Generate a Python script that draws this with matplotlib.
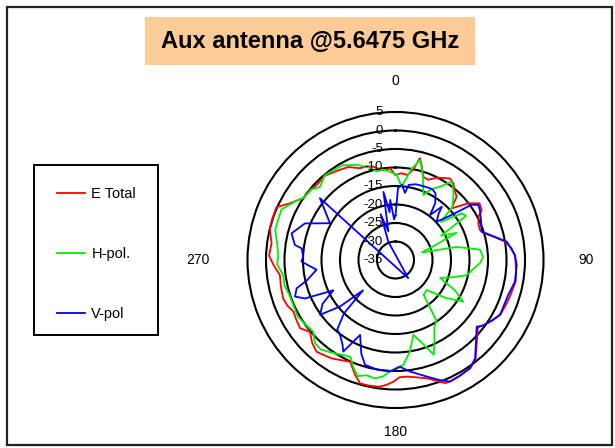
import matplotlib.pyplot as plt
import matplotlib.patches as patches
from matplotlib.transforms import offset_copy
import numpy as np

plt.rcParams['font.family'] = ['Liberation Sans', 'DejaVu Sans']

title = "Aux antenna @5.6475 GHz"
r_min, r_max = -35, 5
ring_values = [-35, -30, -25, -20, -15, -10, -5, 0, 5]
angle_labels = {0: "0", 90: "90", 180: "180", 270: "270"}

# E Total
red_deg = [0, 4, 8, 11, 13.5, 16, 18.5, 22, 27, 33.7, 37, 41, 44, 47.4, 52, 56, 60, 62, 66,
           70.4, 73, 77, 80.5, 84, 88, 92, 96, 100, 107, 112, 117, 121.5, 125, 129.4, 141,
           145.5, 151, 156, 158, 162, 165, 170, 174, 178, 181, 184, 187, 192, 196, 199.4,
           204, 209, 213, 217.2, 220.7, 225, 230, 234.4, 239, 243.2, 247, 251, 257, 262.6,
           267.7, 272, 277.7, 284, 288, 294, 298, 304, 310, 314, 320, 327, 333, 338.8, 343,
           346.6, 350, 353, 356.6]
red_val = [-12, -11.5, -11.8, -10.2, -6.7, -9, -11.3, -11.6, -10, -8.5, -9, -10.5, -11.2, -14.4,
           -10.1, -7.6, -8.1, -9.5, -10.5, -10.8, -10.1, -7.5, -5, -3.5, -2.7, -2.5, -2.2, -2.0,
           -2.5, -2.8, -3, -4, -5, -6.2, -0.6, 0.6, 0.8, 1.0, 0.9, -0.8, -1.9, -2.8, -3.3, -3.3,
           -2.1, -1.2, -0.5, -0.3, -0.3, -2.1, -4.9, -4.1, -3.3, -2.8, -2.3, -3.2, -4.8, -3.3,
           -3.7, -4.1, -3.3, -2.9, -3.2, -3.5, -2, -0.8, -1.2, 0, 0.1, 0.2, -2.5, -5, -5.3,
           -5.6, -5.3, -6.2, -6.8, -8.4, -8.5, -9.1, -10, -10.6, -10.2]

# H-pol.
green_deg = [0.8, 4.8, 10, 13.8, 18, 23.2, 27, 31.3, 35.7, 41, 47, 50, 55, 58, 62, 66, 70, 74,
             78, 83, 88, 92, 97, 102, 107, 112, 117, 121.6, 127, 134, 141, 146, 150, 154, 158,
             163, 166.6, 171, 175.8, 179, 183, 186, 190, 194, 198, 201, 205, 210, 215, 220, 224,
             229, 235, 240, 246, 252, 257, 262, 268, 272, 278, 284, 288, 294, 300, 304, 310,
             314, 320, 326, 331, 338, 344, 348, 352, 356]
green_val = [-12, -15.1, -10, -7.2, -11, -15.9, -13.5, -11.8, -8.9, -11, -14, -19, -13, -12.5,
             -21, -17, -24, -27.6, -18, -12, -11.3, -12.1, -14, -15.3, -19, -22, -17, -13.5,
             -18, -23.3, -22.9, -15.2, -14, -11, -7.4, -12, -14.2, -10, -6.5, -6, -4.8, -3.4,
             -2.5, -2.9, -2, -3.6, -6.1, -5.5, -4.5, -3.5, -3.7, -5.5, -5, -4.5, -4.8, -4.8,
             -4.2, -4.4, -3, -3.3, -2.7, -1.5, -1.5, -1.3, -3.5, -5.0, -5.3, -6.6, -5.2, -5.5,
             -5.7, -7.3, -9, -10.5, -10.3, -11]

# V-pol.
blue_deg = [0, 2, 5, 8, 10, 15, 20, 25, 28, 31, 35, 37.5, 41, 43, 47, 50.6, 54, 56.4, 59.4, 65,
            71.8, 76, 80.7, 87.6, 92.4, 100.3, 107.2, 117.8, 123.1, 127, 129.4, 141, 145.5, 151,
            155.9, 160, 165, 172.6, 177.6, 182.8, 190, 196.2, 200, 205.3, 209.7, 212, 216.5,
            220, 224, 227, 230, 234, 239, 244, 247, 250, 254, 257, 263, 269, 272, 277, 278.5,
            284.4, 292, 299.3, 309.3, 325, 338.5, 342, 346, 350, 353, 355, 358]
blue_val = [-23, -15.5, -14.6, -16.7, -14.4, -13.8, -13.7, -13.5, -13.5, -14, -16.3, -19.7, -15.9,
            -17.9, -19.8, -16.5, -9.6, -8.1, -8.5, -9.5, -10.5, -8, -4.5, -2.7, -2.2, -2.2, -3.1,
            -3.1, -4.5, -5.5, -6.6, -0.8, 0.5, 0.8, 1.0, -0.5, -2.4, -4.6, -6.1, -4.8, -5, -5.5,
            -8, -12.6, -6.5, -8, -9.8, -10.5, -15, -23, -15.5, -9.8, -12, -16.3, -8.4, -6.1,
            -7.2, -10.4, -13.5, -9.6, -10, -9.5, -7.5, -6, -8.6, -14.7, -8.6, -41, -29.7, -22,
            -27, -16.3, -22, -18.7, -24]


def radar_coords(deg, val):
    # values below the inner limit continue through the centre, as in a spreadsheet radar chart
    th = np.deg2rad(np.append(deg, deg[0]))
    r = np.append(val, val[0]).astype(float)
    low = r < r_min
    th[low] += np.pi
    r[low] = 2 * r_min - r[low]
    return th, r


fig = plt.figure(figsize=(6.15, 4.48), dpi=100)

# outer frame and title box
fig.patches.append(patches.Rectangle((7 / 615, 3 / 448), 605 / 615, 438 / 448, transform=fig.transFigure,
                                     fill=False, edgecolor='#222222', linewidth=1.6))
fig.patches.append(patches.Rectangle((145 / 615, 1 - 65 / 448), 330 / 615, 48 / 448,
                                     transform=fig.transFigure, facecolor='#FCCB98', edgecolor='none'))
fig.text(310 / 615, 1 - 41 / 448, title, ha='center', va='center', fontsize=17, fontweight='bold')

ax = fig.add_axes([(395.5 - 148) / 615, (448 - 260 - 148) / 448, 296 / 615, 296 / 448], projection='polar')
ax.set_theta_zero_location('N')
ax.set_theta_direction(-1)
ax.set_ylim(r_min, r_max)
ax.set_yticks(ring_values[1:-1])
ax.set_yticklabels([])
ax.set_xticks([])
ax.xaxis.grid(False)
ax.yaxis.grid(True, color='black', linewidth=1.5)
ax.spines['polar'].set_color('black')
ax.spines['polar'].set_linewidth(1.5)

for deg, val, color, name in [(red_deg, red_val, '#FF0000', 'E Total'),
                              (green_deg, green_val, '#00F000', 'H-pol.'),
                              (blue_deg, blue_val, '#0000FF', 'V-pol')]:
    th, r = radar_coords(deg, val)
    ax.plot(th, r, color=color, linewidth=1.3, label=name)

# value labels along the top axis
label_tr = offset_copy(ax.transData, fig=fig, x=-9, y=0, units='points')
for v in ring_values:
    ax.text(0, v, str(v), transform=label_tr, ha='right', va='center', fontsize=9.5)

# compass labels
for deg, dist in [(0, 13.4), (90, 16.4), (180, 11.5), (270, 18.5)]:
    ax.text(np.deg2rad(deg), dist, angle_labels[deg], ha='center', va='center',
            fontsize=10, clip_on=False)

# legend with a plain square frame
fig.patches.append(patches.Rectangle((34 / 615, 1 - 335 / 448), 124 / 615, 170 / 448,
                                     transform=fig.transFigure, fill=False, edgecolor='black', linewidth=1.4))
ax.legend(loc='upper left', bbox_to_anchor=(57 / 615, 1 - 187 / 448), bbox_transform=fig.transFigure,
          frameon=False, fontsize=10.5, handlelength=1.9, handletextpad=0.45, labelspacing=3.15,
          borderpad=0, borderaxespad=0)

fig.savefig("out.png", dpi=100)
